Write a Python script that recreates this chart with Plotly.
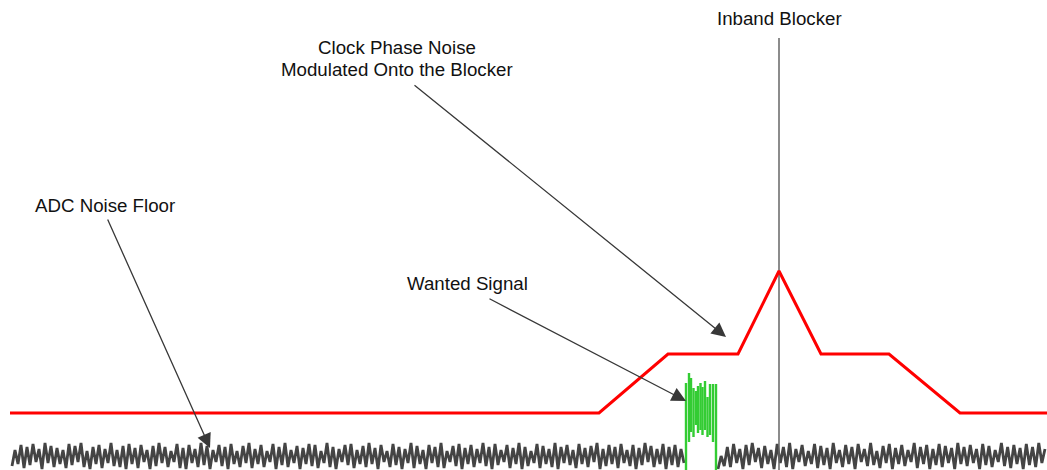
import numpy as np
import plotly.graph_objects as go

# ---- data (arbitrary frequency / amplitude units) ----
noise_left = [
    4,20,6,25,2,23,5,26,8,21,1,27,7,24,3,22,6,20,2,26,
    5,24,8,27,3,19,1,23,6,25,2,21,7,27,4,20,3,24,1,26,
    6,22,2,25,8,20,1,24,4,27,7,23,3,19,8,26,2,22,1,25,
    7,21,3,27,5,24,1,20,8,25,4,23,1,26,6,19,3,24,7,27,
    2,21,6,25,3,19,8,26,1,23,5,27,3,20,7,24,1,22,6,26,
    4,25,2,19,7,27,3,23,1,21,8,25,5,26,2,20,6,24,3,27,
    6,22,1,25,8,19,3,26,5,23,1,21,7,27,2,24,6,20,1,25,
    7,23,3,27,2,19,8,24,4,26,1,22,6,25,3,21,7,27,4,23,
    1,26,5,20,8,25,2,22,6,27,1,23,4,19,7,26,2,24,6,21,
    3,27,1,23,7,25,5,20,2,26,6,22,3,24,8,27,1,21,4,25,
    6,23,2,26,7,20,4,25,1,22,5,27,8,24,3,21,6,26,1,23,
    5,25,3,21,7,
]
noise_right = [
    1,14,4,23,3,26,7,21,1,25,5,27,8,22,2,24,6,20,1,26,
    7,23,3,27,1,21,8,25,4,19,6,26,2,24,5,22,1,27,7,20,
    3,25,6,23,1,26,8,21,4,27,5,19,2,24,7,26,1,22,6,25,
    4,20,8,27,2,23,6,25,1,21,5,26,3,24,7,22,1,27,6,23,
    4,25,7,21,1,26,5,24,3,20,8,27,4,23,2,25,6,22,1,26,
    5,23,3,27,7,21,
]
noise_left_span = [12, 684]
noise_right_span = [718, 1045]

blocker_x = [10, 599, 668, 738, 779, 821, 889, 960, 1047]
blocker_y = [57, 57, 116, 116, 199, 116, 116, 57, 57]

blocker_tone_x = [779, 779]
blocker_tone_y = [0, 432]

signal_x      = [686, 689, 691, 693.5, 696, 698, 700.5, 702.5, 705, 707.5, 710, 713, 716]
signal_top    = [87, 97, 92, 82, 79, 84, 87, 83, 89, 73, 86, 86, 86]
signal_bottom = [0, 28, 38, 33, 45, 37, 40, 35, 40, 33, 35, 28, 0]

# ---- figure ----
fig = go.Figure()

nl_x = np.linspace(noise_left_span[0], noise_left_span[1], len(noise_left))
nr_x = np.linspace(noise_right_span[0], noise_right_span[1], len(noise_right))
for xs, ys in [(nl_x, noise_left), (nr_x, noise_right)]:
    fig.add_trace(go.Scatter(x=xs, y=ys, mode="lines",
                             line=dict(color="#444444", width=2.8),
                             hoverinfo="skip", showlegend=False))

fig.add_trace(go.Scatter(x=blocker_tone_x, y=blocker_tone_y, mode="lines",
                         line=dict(color="#666666", width=1.5),
                         hoverinfo="skip", showlegend=False))

fig.add_trace(go.Scatter(x=blocker_x, y=blocker_y, mode="lines",
                         line=dict(color="#ff0000", width=3),
                         hoverinfo="skip", showlegend=False))

seg_x, seg_y = [], []
for x, t, b in zip(signal_x, signal_top, signal_bottom):
    seg_x += [x, x, None]
    seg_y += [b, t, None]
fig.add_trace(go.Scatter(x=seg_x, y=seg_y, mode="lines",
                         line=dict(color="#33cc33", width=2.4),
                         hoverinfo="skip", showlegend=False))

font = dict(family="Liberation Sans, Arial, sans-serif", size=18.7, color="#111111")

labels = [
    ("Inband Blocker", 779, 452),
    ("Clock Phase Noise", 397, 423),
    ("Modulated Onto the Blocker", 397, 401),
    ("ADC Noise Floor", 105, 265),
    ("Wanted Signal", 467, 187),
]
for text, x, y in labels:
    fig.add_annotation(x=x, y=y, text=text, showarrow=False, font=font,
                       xref="x", yref="y", xanchor="center", yanchor="middle")

arrows = [
    # (tip_x, tip_y, tail_x, tail_y)
    (210, 22, 107, 252),
    (686, 69, 488, 172),
    (726, 133, 413, 386),
]
for tx, ty, sx, sy in arrows:
    fig.add_annotation(x=tx, y=ty, ax=sx, ay=sy, xref="x", yref="y",
                       axref="x", ayref="y", text="", showarrow=True,
                       arrowhead=2, arrowsize=2.2, arrowwidth=1.3,
                       arrowcolor="#383838", standoff=0, startstandoff=0)

fig.update_layout(
    width=1047, height=470,
    margin=dict(l=0, r=0, t=0, b=0),
    paper_bgcolor="white", plot_bgcolor="white",
    xaxis=dict(range=[0, 1047], visible=False, fixedrange=True),
    yaxis=dict(range=[0, 470], visible=False, fixedrange=True),
)

fig.write_html("out.html", config={"displayModeBar": False},
               post_script="document.body.style.margin='0';document.body.style.overflow='hidden';")
